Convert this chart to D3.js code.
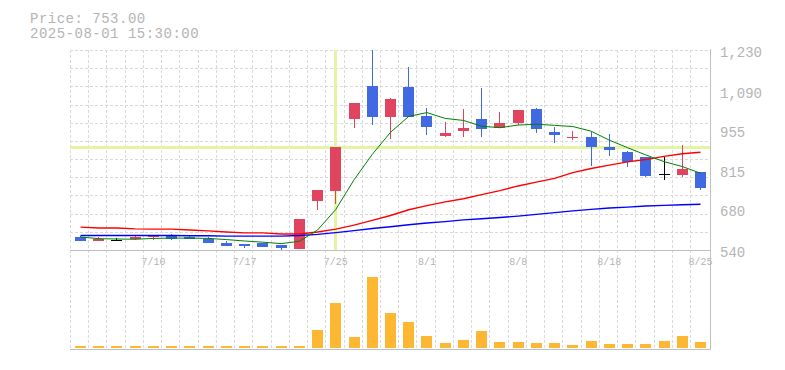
<!DOCTYPE html>
<html><head><meta charset="utf-8">
<script src="https://cdn.jsdelivr.net/npm/d3@7"></script>
<style>
html,body{margin:0;padding:0;background:#fff;}
svg{display:block;}
text{font-family:"Liberation Mono","DejaVu Sans Mono",monospace;fill:#b4b4b4;}
</style></head><body>
<svg id="chart" width="785" height="370"></svg>
<script>
const dates = ["7/4","7/7","7/8","7/9","7/10","7/11","7/14","7/15","7/16","7/17","7/18","7/22","7/23","7/24","7/25","7/28","7/29","7/30","7/31","8/1","8/4","8/5","8/6","8/7","8/8","8/12","8/13","8/14","8/15","8/18","8/19","8/20","8/21","8/22","8/25"];
const open  = [585,571,575,578,585,592,585,578,564,561,564,557,543,710,745,993,1106,1000,1102,1002,934,952,992,961,979,1026,947,927,930,895,878,861,801,800,809];
const high  = [587,585,581,588,589,595,592,585,571,561,564,557,647,747,895,1047,1230,1064,1172,1029,983,1026,1099,1017,1023,1030,963,952,948,940,882,861,861,902,809];
const low   = [570,571,571,575,575,575,578,564,554,547,550,541,543,678,699,962,972,922,1000,938,931,931,931,961,971,945,910,920,831,865,827,793,783,793,748];
const close = [571,578,575,585,588,578,578,564,554,554,550,547,647,747,895,1047,1000,1061,1000,965,944,961,958,978,1023,958,938,931,896,886,845,796,801,820,753];
const volume = [20,20,20,20,20,20,20,20,20,20,20,20,20,180,450,110,710,350,260,120,50,80,170,60,60,50,50,30,70,40,40,40,70,120,60];
const ma5  = [585,579,578,577,580,581,581,580,576,571,567,562,570,609,680,782,870,946,1001,1014,994,987,967,962,971,974,970,966,950,919,893,868,845,828,805];
const ma25 = [619,616,616,613,612,612,609,606,602,599,599,595,595,602,612,626,642,659,679,693,706,717,731,745,761,774,787,807,821,833,844,852,863,872,877];
const ma75 = [590,590,590,590,590,590,589,589,588,588,588,588,590,594,600,607,614,620,627,633,638,644,648,652,657,663,669,675,680,685,688,692,694,696,698];
const xTickLabels = ["7/10","7/17","7/25","8/1","8/8","8/18","8/25"];
const yTickValues = [540,680,815,955,1090,1230];
const headerLines = ["Price: 753.00","2025-08-01 15:30:00"];
const crossDate = "7/25";
const crossPrice = 895;

const svg = d3.select("#chart");
const L = 70, R = 710, PT = 50, PB = 250, VB = 348;
const x = d3.scaleBand().domain(dates).range([71.4, 709.6]);
const cx = d => x(d) + x.bandwidth() / 2;
const y = d3.scaleLinear().domain([540, 1230]).range([PB, PT]);
const yv = d3.scaleLinear().domain([0, 1000]).range([VB, VB - 100]);
const idx = d3.range(dates.length);

// header
svg.selectAll("text.hdr").data(headerLines).join("text").attr("class","hdr")
  .attr("x", 30).attr("y", (d,i) => 23 + i*15).style("font-size","14px").style("letter-spacing","0.5px").text(d => d);

const grid = svg.append("g").attr("stroke","#d9d9d9").attr("stroke-dasharray","3,2").attr("shape-rendering","crispEdges");
grid.selectAll("line.h").data(d3.range(11)).join("line").attr("class","h")
  .attr("x1", L).attr("x2", R).attr("y1", i => Math.round(PT + i*(PB-PT)/11) + 0.5).attr("y2", i => Math.round(PT + i*(PB-PT)/11) + 0.5);
grid.selectAll("line.v").data(dates).join("line").attr("class","v")
  .attr("x1", d => Math.round(cx(d) - 10.5) + 0.5).attr("x2", d => Math.round(cx(d) - 10.5) + 0.5)
  .attr("y1", PT).attr("y2", 349);

// crosshair
const cross = svg.append("g").attr("fill","#e3f4a2").attr("shape-rendering","crispEdges");
cross.append("rect").attr("x", L).attr("width", R - L).attr("y", Math.round(y(crossPrice)) - 1).attr("height", 3);
cross.append("rect").attr("x", Math.round(cx(crossDate)) - 2).attr("width", 3).attr("y", PT).attr("height", PB - PT);

// frame
const frame = svg.append("g").attr("stroke","#c0c0c0").attr("shape-rendering","crispEdges");
frame.append("line").attr("x1", L).attr("x2", R + 1).attr("y1", PB + 0.5).attr("y2", PB + 0.5);
frame.append("line").attr("x1", L).attr("x2", R + 1).attr("y1", 349.5).attr("y2", 349.5);
frame.append("line").attr("x1", R + 0.5).attr("x2", R + 0.5).attr("y1", PT - 1).attr("y2", 350);

// volume bars
svg.append("g").attr("fill","#fdb733").attr("shape-rendering","crispEdges")
  .selectAll("rect").data(idx).join("rect")
  .attr("x", i => Math.round(cx(dates[i]) - 5.5)).attr("width", 11)
  .attr("y", i => Math.round(yv(volume[i]))).attr("height", i => VB - Math.round(yv(volume[i])));

// candles
const col = i => close[i] > open[i] ? "#e0445f" : (close[i] < open[i] ? "#4169e1" : "#000000");
const cg = svg.append("g").attr("shape-rendering","crispEdges");
cg.selectAll("rect.w").data(idx).join("rect").attr("class","w")
  .attr("x", i => Math.round(cx(dates[i]) - 5.5) + 5).attr("width", 1)
  .attr("y", i => Math.round(y(high[i]))).attr("height", i => Math.max(1, Math.round(y(low[i])) - Math.round(y(high[i]))))
  .attr("fill", col);
cg.selectAll("rect.b").data(idx).join("rect").attr("class","b")
  .attr("x", i => Math.round(cx(dates[i]) - 5.5)).attr("width", 11)
  .attr("y", i => Math.round(y(Math.max(open[i], close[i]))))
  .attr("height", i => Math.max(1, Math.round(y(Math.min(open[i], close[i]))) - Math.round(y(Math.max(open[i], close[i])))))
  .attr("fill", col);

// moving averages
const line = arr => d3.line().x(i => cx(dates[i])).y(i => y(arr[i]))(idx);
svg.append("path").attr("d", line(ma75)).attr("fill","none").attr("stroke","#0000ff").attr("stroke-width",1.4);
svg.append("path").attr("d", line(ma25)).attr("fill","none").attr("stroke","#ff0000").attr("stroke-width",1.4);
svg.append("path").attr("d", line(ma5)).attr("fill","none").attr("stroke","#008000").attr("stroke-width",1);

// y axis labels
svg.selectAll("text.yl").data(yTickValues).join("text").attr("class","yl")
  .attr("x", 720).attr("y", d => y(d) + 7).style("font-size","14px").text(d => d3.format(",")(d));

// x axis labels
svg.selectAll("text.xl").data(xTickLabels).join("text").attr("class","xl")
  .attr("x", d => cx(d)).attr("y", 265).attr("text-anchor","middle").style("font-size","10px").text(d => d);
</script>
</body></html>
